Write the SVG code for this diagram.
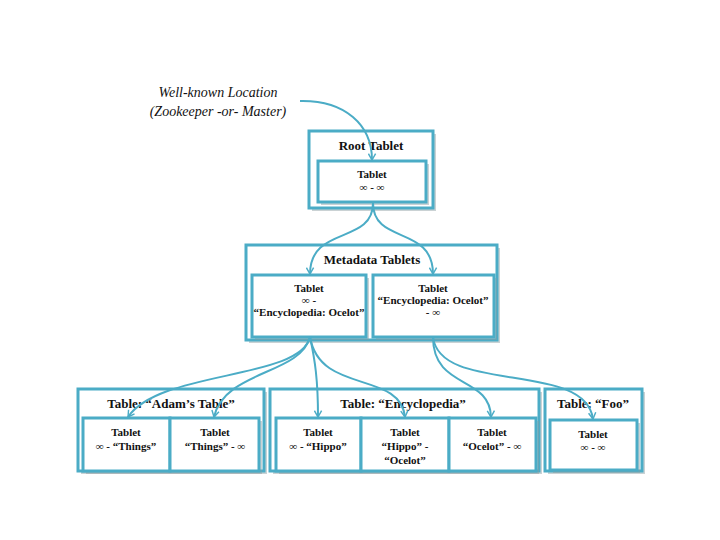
<svg xmlns="http://www.w3.org/2000/svg" width="720" height="540" viewBox="0 0 720 540">
<style>
.box{fill:#fff;stroke:#4bacc6;stroke-width:3}
.sh{fill:#8a9ba0;opacity:0.45}
.t{font-family:"Liberation Serif","DejaVu Serif",serif;text-anchor:middle;fill:#111}
.h{font-size:13px;font-weight:bold}
.s{font-size:11px;font-weight:bold}
.i{font-size:14px;font-style:italic;font-family:"Liberation Serif","DejaVu Serif",serif}
.c{fill:none;stroke:#4bacc6;stroke-width:2}
</style>
<defs>
<marker id="ar" viewBox="0 0 10 10" refX="8" refY="5" markerWidth="9" markerHeight="9" orient="auto" markerUnits="userSpaceOnUse">
<path d="M1,1 L8,5 L1,9" fill="none" stroke="#4bacc6" stroke-width="1.6"/>
</marker>
</defs>
<rect width="720" height="540" fill="#fff"/>
<text class="t i" x="218" y="97">Well-known Location</text>
<text class="t i" x="218" y="116">(Zookeeper -or- Master)</text>

<g id="root">
<rect class="sh" x="312" y="134" width="124" height="77"/>
<rect class="box" x="309" y="131" width="124" height="77"/>
<text class="t h" x="371" y="150">Root Tablet</text>
<rect class="sh" x="321" y="164" width="108" height="41"/>
<rect class="box" x="318" y="161" width="108" height="41"/>
<text class="t s" x="372" y="178">Tablet</text>
<text class="t s" x="372" y="191">∞ - ∞</text>
</g>

<g id="metadata">
<rect class="sh" x="249" y="248" width="251" height="95"/>
<rect class="box" x="246" y="245" width="251" height="95"/>
<text class="t h" x="372" y="264">Metadata Tablets</text>
<rect class="sh" x="255" y="278" width="114" height="62"/>
<rect class="box" x="252" y="275" width="114" height="62"/>
<text class="t s" x="309" y="292">Tablet</text>
<text class="t s" x="309" y="304">∞  -</text>
<text class="t s" x="309" y="316">“Encyclopedia: Ocelot”</text>
<rect class="sh" x="376" y="278" width="121" height="62"/>
<rect class="box" x="373" y="275" width="121" height="62"/>
<text class="t s" x="433" y="292">Tablet</text>
<text class="t s" x="433" y="304">“Encyclopedia: Ocelot”</text>
<text class="t s" x="433" y="316">- ∞</text>
</g>

<g id="adam">
<rect class="sh" x="81" y="392" width="186" height="82"/>
<rect class="box" x="78" y="389" width="186" height="82"/>
<text class="t h" x="171" y="408">Table: “Adam’s Table”</text>
<rect class="sh" x="86" y="421" width="176" height="53"/>
<rect class="box" x="83" y="418" width="87" height="53"/>
<rect class="box" x="170" y="418" width="89" height="53"/>
<text class="t s" x="126" y="436">Tablet</text>
<text class="t s" x="126" y="450">∞ - “Things”</text>
<text class="t s" x="215" y="436">Tablet</text>
<text class="t s" x="215" y="450">“Things” - ∞</text>
</g>

<g id="encyclopedia">
<rect class="sh" x="273" y="392" width="269" height="82"/>
<rect class="box" x="270" y="389" width="269" height="82"/>
<text class="t h" x="403" y="408">Table: “Encyclopedia”</text>
<rect class="sh" x="279" y="421" width="260" height="53"/>
<rect class="box" x="276" y="418" width="85" height="53"/>
<rect class="box" x="361" y="418" width="88" height="53"/>
<rect class="box" x="449" y="418" width="87" height="53"/>
<text class="t s" x="318" y="436">Tablet</text>
<text class="t s" x="318" y="450">∞ - “Hippo”</text>
<text class="t s" x="405" y="436">Tablet</text>
<text class="t s" x="405" y="450">“Hippo” -</text>
<text class="t s" x="405" y="464">“Ocelot”</text>
<text class="t s" x="492" y="436">Tablet</text>
<text class="t s" x="492" y="450">“Ocelot” - ∞</text>
</g>

<g id="foo">
<rect class="sh" x="548" y="392" width="97" height="82"/>
<rect class="box" x="545" y="389" width="97" height="82"/>
<text class="t h" x="593" y="408">Table: “Foo”</text>
<rect class="sh" x="553" y="423" width="87" height="50"/>
<rect class="box" x="550" y="420" width="87" height="50"/>
<text class="t s" x="593" y="438">Tablet</text>
<text class="t s" x="593" y="451">∞ - ∞</text>
</g>

<g id="connectors">
<path class="c" marker-end="url(#ar)" d="M300,101 C345,100 372,125 372,160"/>
<path class="c" marker-end="url(#ar)" d="M373,203 C373,245 310,225 310,274"/>
<path class="c" marker-end="url(#ar)" d="M373,203 C373,245 433,225 433,274"/>
<path class="c" marker-end="url(#ar)" d="M310,337 C300,380 160,370 128,417"/>
<path class="c" marker-end="url(#ar)" d="M310,337 C300,375 225,370 214,417"/>
<path class="c" marker-end="url(#ar)" d="M310,337 C315,360 318,380 318,417"/>
<path class="c" marker-end="url(#ar)" d="M310,337 C320,395 400,370 405,417"/>
<path class="c" marker-end="url(#ar)" d="M433,337 C433,390 490,375 491,417"/>
<path class="c" marker-end="url(#ar)" d="M433,337 C440,395 585,360 593,419"/>
</g>
</svg>
